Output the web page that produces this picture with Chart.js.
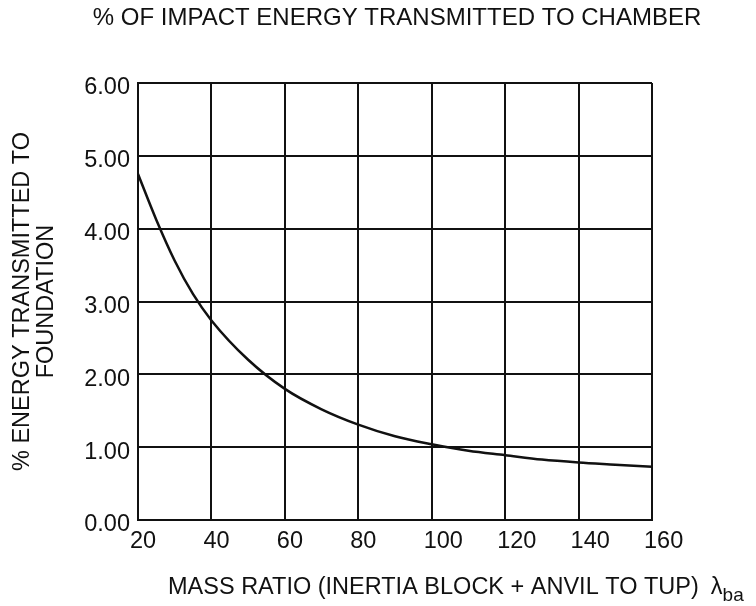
<!DOCTYPE html>
<html>
<head>
<meta charset="utf-8">
<script src="https://cdn.jsdelivr.net/npm/chart.js@4/dist/chart.umd.min.js"></script>
<style>
  html, body { margin: 0; padding: 0; background: #fff; }
  canvas { display: block; }
</style>
</head>
<body>
<canvas id="chart" width="756" height="606"></canvas>
<script>
// data
var massRatio = [20, 25, 30, 35, 40, 50, 60, 70, 80, 90, 100, 110, 120, 130, 140, 150, 160];
var energyPct = [4.75, 4.12, 3.56, 3.10, 2.74, 2.20, 1.80, 1.52, 1.31, 1.15, 1.04, 0.95, 0.89, 0.83, 0.79, 0.76, 0.73];

var chartTitle = "% OF IMPACT ENERGY TRANSMITTED TO CHAMBER";
var yTitle = ["% ENERGY TRANSMITTED TO", "FOUNDATION"];
var xTitle = "MASS RATIO (INERTIA BLOCK + ANVIL TO TUP)";
var xSymbol = "\u03BB";
var xSub = "ba";

var FONT = "'Liberation Sans', Arial, sans-serif";
var SIZE = 23.5;
var INK = "#111";

var points = [];
for (var i = 0; i < massRatio.length; i++) {
    points.push({x: massRatio[i], y: energyPct[i]});
}

// titles drawn by hand, the x one needs a subscript
var textPlugin = {
    id: "texts",
    afterDraw: function(chart) {
        var ctx = chart.ctx;
        var area = chart.chartArea;
        ctx.save();
        ctx.fillStyle = INK;
        ctx.textBaseline = "middle";

        ctx.font = "24px " + FONT;
        ctx.textAlign = "center";
        ctx.fillText(chartTitle, 397, 18);

        ctx.font = SIZE + "px " + FONT;
        ctx.save();
        ctx.translate(23, (area.top + area.bottom) / 2);
        ctx.rotate(-Math.PI / 2);
        ctx.fillText(yTitle[0], 0, 0);
        ctx.fillText(yTitle[1], 0, 24);
        ctx.restore();

        ctx.textAlign = "left";
        ctx.fillText(xTitle, 168, 588);
        var w = ctx.measureText(xTitle).width;
        var sx = 168 + w + 12;
        ctx.fillText(xSymbol, sx, 588);
        var ws = ctx.measureText(xSymbol).width;
        ctx.font = "19px " + FONT;
        ctx.fillText(xSub, sx + ws, 596);
        ctx.restore();
    }
};

new Chart(document.getElementById("chart"), {
    type: "scatter",
    data: {
        datasets: [{
            data: points,
            showLine: true,
            borderColor: INK,
            borderWidth: 2.5,
            pointRadius: 0,
            cubicInterpolationMode: "monotone",
            fill: false
        }]
    },
    options: {
        responsive: false,
        animation: false,
        layout: {padding: {top: 83, right: 104, left: 0, bottom: 0}},
        plugins: {
            legend: {display: false},
            tooltip: {enabled: false},
            title: {display: false}
        },
        scales: {
            x: {
                type: "linear",
                min: 20,
                max: 160,
                afterFit: function(s) { s.height = 86; },
                ticks: {stepSize: 20, color: INK, padding: 7, align: "start", labelOffset: -8,
                        font: {family: FONT, size: SIZE}},
                grid: {color: INK, lineWidth: 2, drawTicks: false},
                border: {color: INK, width: 2}
            },
            y: {
                min: 0,
                max: 6,
                afterFit: function(s) { s.width = 138; },
                ticks: {
                    stepSize: 1,
                    color: INK,
                    padding: 8,
                    labelOffset: 5,
                    font: {family: FONT, size: SIZE},
                    callback: function(v) { return v.toFixed(2); }
                },
                grid: {color: INK, lineWidth: 2, drawTicks: false},
                border: {color: INK, width: 2}
            }
        }
    },
    plugins: [textPlugin]
});
</script>
</body>
</html>
